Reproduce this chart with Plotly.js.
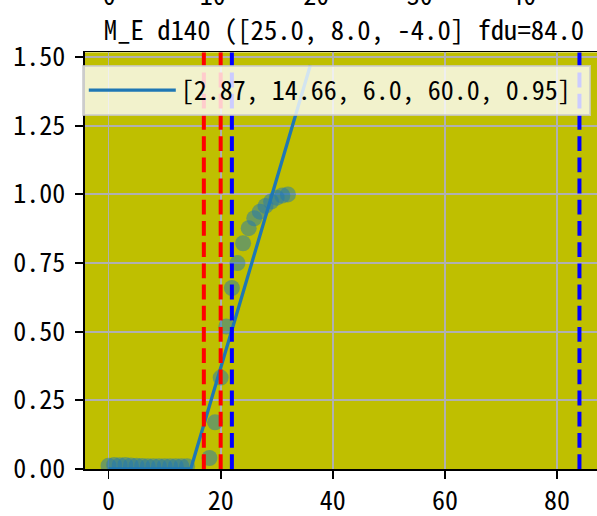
<!DOCTYPE html>
<html>
<head>
<meta charset="utf-8">
<script src="https://cdn.plot.ly/plotly-3.0.1.min.js"></script>
<style>
  html, body { margin: 0; padding: 0; overflow: hidden; background: #fff; width: 597px; height: 516px; }
  #wrap { position: absolute; left: 0; top: -100px; width: 606px; height: 616px; }
</style>
</head>
<body>
<div id="wrap"></div>
<script>
// ---- data ----
const pointX = [0, 1, 2, 3, 4, 5, 6, 7, 8, 9, 10, 11, 12, 13, 14,
                18, 19, 20, 21, 22, 23, 24, 25, 26, 27, 28, 29, 30, 31, 32];
const pointY = [0.012, 0.015, 0.014, 0.015, 0.013, 0.012, 0.011, 0.010, 0.010, 0.010, 0.010, 0.010, 0.010, 0.010, 0.010,
                0.040, 0.170, 0.333, 0.519, 0.659, 0.750, 0.822, 0.877, 0.913, 0.937, 0.958, 0.974, 0.988, 0.996, 1.000];
const fitX = [0, 14.66, 36];
const fitY = [0, 0, 1.47];
const fitLabel = "[2.87, 14.66, 6.0, 60.0, 0.95]";
const vlineX = [17, 20, 22, 84];
const vlineColors = ["red", "red", "blue", "blue"];
const titleText = "M_E d140 ([25.0, 8.0, -4.0] fdu=84.0";
const topTicks = [0, 10, 20, 30, 40];
const bottomTicks = [0, 20, 40, 60, 80];
const yTicks = [0, 0.25, 0.5, 0.75, 1.0, 1.25, 1.5];

const FONT = "Noto Sans Mono CJK JP, DejaVu Sans Mono, monospace";
const FS = 26;

const traces = [
  {
    x: pointX, y: pointY, type: "scatter", mode: "markers",
    marker: { size: 16, color: "rgba(31,119,180,0.5)", line: { width: 0 } },
    showlegend: false, hoverinfo: "skip"
  },
  {
    x: fitX, y: fitY, type: "scatter", mode: "lines",
    line: { color: "#1f77b4", width: 3.3 },
    name: fitLabel + "\u00a0"
  },
  { x: [], y: [], xaxis: "x2", yaxis: "y2", type: "scatter", showlegend: false }
];

const shapes = vlineX.map((v, i) => ({
  type: "line", xref: "x", yref: "y domain", x0: v, x1: v, y0: 0, y1: 1,
  line: { color: vlineColors[i], width: 4, dash: "14.8px,6.4px" }, layer: "above"
}));

const axisStyle = {
  showline: true, linecolor: "black", linewidth: 1.8, mirror: true,
  ticks: "outside", ticklen: 7.8, tickwidth: 1.8, tickcolor: "black",
  showgrid: true, gridcolor: "#b0b0b0", gridwidth: 1.8, zeroline: false,
  tickfont: { family: FONT, size: FS, color: "black" }
};

const layout = {
  width: 606, height: 616,
  margin: { l: 85, r: 3, t: 20, b: 46.7 },
  paper_bgcolor: "white", plot_bgcolor: "#bfbf00",
  font: { family: FONT, size: FS, color: "black" },
  title: {
    text: titleText, font: { family: FONT, size: 26.7, color: "black" },
    xref: "paper", x: 0.5, xanchor: "center",
    yref: "container", y: 0.7881, yanchor: "middle"
  },
  xaxis: Object.assign({}, axisStyle, {
    domain: [0, 1], anchor: "y", range: [-4.2, 88.2],
    tickmode: "array", tickvals: bottomTicks, ticktext: bottomTicks.map(String)
  }),
  yaxis: Object.assign({}, axisStyle, {
    domain: [0, 0.7588], anchor: "x", range: [0, 1.517],
    tickmode: "array", tickvals: yTicks, ticktext: yTicks.map(v => v.toFixed(2)),
    ticklabelstandoff: 5
  }),
  xaxis2: Object.assign({}, axisStyle, {
    domain: [0, 1], anchor: "y2", range: [-2.35, 47.7], showgrid: false,
    tickmode: "array", tickvals: topTicks, ticktext: topTicks.map(String)
  }),
  yaxis2: Object.assign({}, axisStyle, {
    domain: [0.9199, 1], anchor: "x2", range: [0, 1], showgrid: false,
    showticklabels: false, ticks: ""
  }),
  shapes: shapes,
  showlegend: true,
  legend: {
    x: -0.0058, xanchor: "left", y: 0.736, yanchor: "top",
    bgcolor: "rgba(255,255,255,0.8)", bordercolor: "rgba(204,204,204,0.8)", borderwidth: 1.8,
    font: { family: FONT, size: FS, color: "black" },
    itemwidth: 87
  }
};

Plotly.newPlot("wrap", traces, layout, { displayModeBar: false, staticPlot: true });
</script>
</body>
</html>
